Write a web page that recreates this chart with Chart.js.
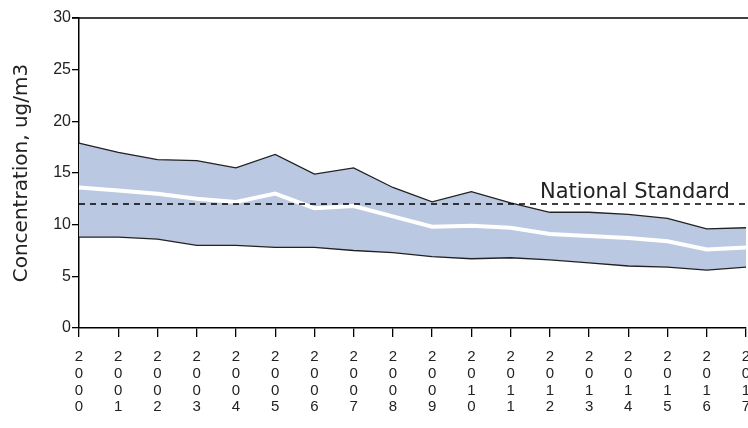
<!DOCTYPE html>
<html>
<head>
<meta charset="utf-8">
<script src="https://cdn.jsdelivr.net/npm/chart.js@4.4.1/dist/chart.umd.min.js"></script>
<style>
  html, body { margin: 0; padding: 0; background: #fff; }
  #wrap { width: 748px; height: 428px; }
</style>
</head>
<body>
<div id="wrap"><canvas id="myChart" width="748" height="428"></canvas></div>
<script>
// datos
const years = ["2000","2001","2002","2003","2004","2005","2006","2007","2008",
               "2009","2010","2011","2012","2013","2014","2015","2016","2017"];
const upperValues = [17.9, 17.0, 16.3, 16.2, 15.5, 16.8, 14.9, 15.5, 13.6,
                     12.2, 13.2, 12.1, 11.2, 11.2, 11.0, 10.6, 9.6, 9.7];
const meanValues  = [13.6, 13.3, 13.0, 12.5, 12.2, 13.0, 11.6, 11.8, 10.8,
                     9.8, 9.9, 9.7, 9.1, 8.9, 8.7, 8.4, 7.6, 7.8];
const lowerValues = [8.8, 8.8, 8.6, 8.0, 8.0, 7.8, 7.8, 7.5, 7.3,
                     6.9, 6.7, 6.8, 6.6, 6.3, 6.0, 5.9, 5.6, 5.9];
const yTicks = [0, 5, 10, 15, 20, 25, 30];
const nationalStandard = 12;

// linea del estandar y borde superior
const standardPlugin = {
  id: "standard",
  afterDatasetsDraw(chart) {
    const ctx = chart.ctx;
    const area = chart.chartArea;
    const y = chart.scales.y.getPixelForValue(nationalStandard);
    ctx.save();
    ctx.strokeStyle = "#000";
    ctx.lineWidth = 1.3;
    ctx.setLineDash([6, 5]);
    ctx.beginPath();
    ctx.moveTo(area.left, y);
    ctx.lineTo(chart.width, y);
    ctx.stroke();
    ctx.setLineDash([]);
    ctx.lineWidth = 1.5;
    ctx.beginPath();
    ctx.moveTo(area.left - 7, area.top);
    ctx.lineTo(chart.width, area.top);
    ctx.stroke();
    ctx.fillStyle = "#222";
    ctx.font = "21px 'DejaVu Sans'";
    ctx.textAlign = "left";
    ctx.textBaseline = "alphabetic";
    ctx.fillText("National Standard", 540, y - 6);
    ctx.restore();
  }
};

const data = {
  labels: years.map(function(y) { return y.split(""); }),
  datasets: [
    {
      label: "Upper",
      data: upperValues,
      borderColor: "#222",
      borderWidth: 1.3,
      backgroundColor: "#bbc8e1",
      fill: "+1",
      pointRadius: 0,
      tension: 0,
      order: 2
    },
    {
      label: "Lower",
      data: lowerValues,
      borderColor: "#222",
      borderWidth: 1.3,
      fill: false,
      pointRadius: 0,
      tension: 0,
      order: 1
    },
    {
      label: "Mean",
      data: meanValues,
      borderColor: "#ffffff",
      borderWidth: 4,
      fill: false,
      pointRadius: 0,
      tension: 0,
      order: 0
    }
  ]
};

const config = {
  type: "line",
  data: data,
  options: {
    responsive: false,
    animation: false,
    layout: { padding: { left: 0, right: 0, top: 18, bottom: 0 } },
    plugins: {
      legend: { display: false },
      tooltip: { enabled: false },
      filler: { drawTime: "beforeDatasetsDraw" }
    },
    scales: {
      x: {
        offset: false,
        grid: {
          drawOnChartArea: false,
          drawTicks: true,
          tickLength: 9,
          color: "#000",
          lineWidth: 1.3
        },
        border: { color: "#000", width: 1.5 },
        ticks: {
          color: "#222",
          font: { family: "Liberation Sans", size: 15, lineHeight: 1.13 },
          padding: 11,
          maxRotation: 0,
          autoSkip: false
        },
        afterFit: function(scale) {
          scale.height = 100;
          scale.paddingRight = 2;
          scale.paddingLeft = 0;
        }
      },
      y: {
        min: 0,
        max: 30,
        afterBuildTicks: function(scale) {
          scale.ticks = yTicks.map(function(v) { return { value: v }; });
        },
        grid: {
          drawOnChartArea: false,
          drawTicks: true,
          tickLength: 7,
          color: "#000",
          lineWidth: 1.3
        },
        border: { color: "#000", width: 1.5 },
        ticks: {
          color: "#222",
          font: { family: "Liberation Sans", size: 16 },
          padding: 1
        },
        title: {
          display: true,
          text: "Concentration, ug/m3",
          color: "#222",
          font: { family: "DejaVu Sans", size: 20 },
          padding: { top: 10, bottom: 2 }
        },
        afterFit: function(scale) { scale.width = 79; }
      }
    }
  },
  plugins: [standardPlugin]
};

var myChart = new Chart(document.getElementById("myChart"), config);
</script>
</body>
</html>
